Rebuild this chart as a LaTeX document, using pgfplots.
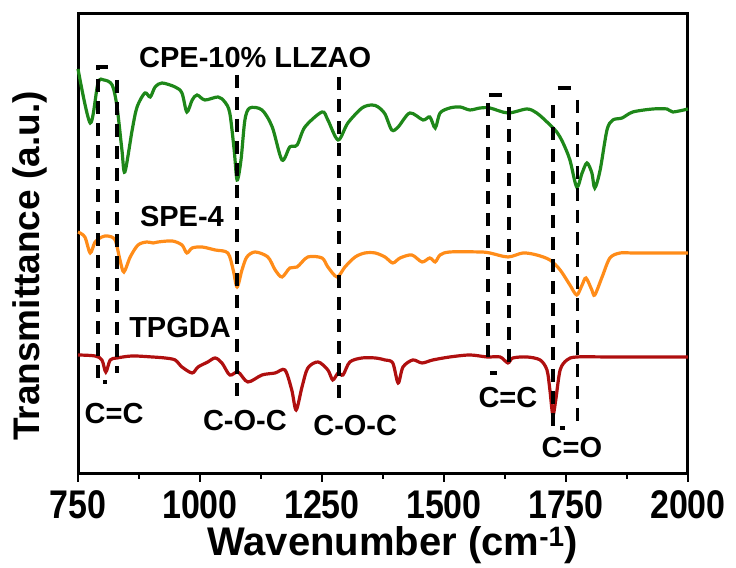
\documentclass[border=0pt]{standalone}
\usepackage{pgfplots}
\pgfplotsset{compat=1.18}
\usepackage{fontspec}
\setmainfont{Liberation Sans}
\definecolor{cgreen}{RGB}{30,135,25}
\definecolor{corange}{RGB}{255,140,25}
\definecolor{cred}{RGB}{175,15,15}
\newcommand\sq[1]{\scalebox{0.85}[1]{#1}}
\begin{document}
\begin{tikzpicture}
\begin{axis}[
 scale only axis, width=610pt, height=460pt,
 xmin=750, xmax=2000, ymin=0, ymax=460,
 xtick={750,1000,1250,1500,1750,2000},
 xticklabels={\sq{750},\sq{1000},\sq{1250},\sq{1500},\sq{1750},\sq{2000}},
 minor x tick num=1,
 ytick=\empty,
 xtick pos=bottom, tick align=outside,
 major tick length=8pt, minor tick length=5pt,
 tick style={black, line width=2.5pt},
 axis line style={line width=3pt},
 xticklabel style={font=\fontsize{40}{48}\selectfont\bfseries, yshift=-5pt},
 clip=false,
]
% green: CPE-10% LLZAO
\addplot[cgreen, line width=3.2pt, smooth] coordinates {
(750,405) (775,351) (791,391) (803,394) (820,389) (830,367) (840,324) (846,302)
(861,344) (871,367) (887,381) (898,377) (908,387) (922,391) (949,387) (963,381)
(973,362) (984,374) (994,379) (1010,374) (1037,377) (1051,372) (1061,361) (1070,324)
(1076,294) (1084,314) (1092,354) (1102,366) (1127,364) (1148,347) (1168,314) (1184,327)
(1199,329) (1215,347) (1250,362) (1262,354) (1283,334) (1303,351) (1332,366) (1352,369)
(1365,367) (1379,360) (1393,344) (1406,347) (1430,361) (1457,354) (1471,357) (1482,346)
(1492,361) (1512,366) (1533,367) (1553,364) (1574,366) (1594,366) (1631,361) (1670,365)
(1690,361) (1711,352) (1731,342) (1744,331) (1758,314) (1772,287) (1783,301) (1793,311)
(1803,301) (1809,286) (1820,304) (1834,344) (1846,354) (1865,356) (1887,362) (1928,365)
(1957,365) (1969,362) (2000,365)
};
% orange: SPE-4
\addplot[corange, line width=3.2pt, smooth] coordinates {
(750,242) (764,237) (775,221) (785,232) (799,237) (811,238) (826,234) (836,214)
(844,202) (857,217) (873,229) (891,232) (904,231) (914,232) (943,233) (963,229)
(973,221) (984,226) (1004,227) (1031,224) (1057,221) (1068,204) (1076,187) (1086,204)
(1096,217) (1113,222) (1139,217) (1154,204) (1168,197) (1184,206) (1199,207) (1221,217)
(1250,216) (1262,207) (1281,197) (1297,207) (1318,217) (1338,221) (1359,221) (1379,217)
(1395,211) (1410,216) (1434,219) (1455,212) (1471,216) (1482,212) (1492,219) (1512,222)
(1574,222) (1594,221) (1631,217) (1662,221) (1690,219) (1717,214) (1738,204) (1758,189)
(1772,179) (1783,189) (1791,196) (1803,184) (1809,179) (1824,197) (1840,216) (1861,221)
(1887,221) (1949,221) (2000,221)
};
% red: TPGDA
\addplot[cred, line width=3.2pt, smooth] coordinates {
(750,119) (785,118) (799,114) (807,102) (816,114) (830,116) (861,118) (902,117)
(928,116) (949,114) (963,107) (984,101) (996,107) (1016,112) (1031,116) (1045,111)
(1061,99) (1078,102) (1098,92) (1127,99) (1154,101) (1174,104) (1188,84) (1197,64)
(1209,87) (1221,106) (1242,112) (1262,104) (1272,94) (1283,101) (1293,99) (1307,112)
(1332,116) (1359,116) (1379,114) (1395,111) (1406,91) (1416,107) (1436,114) (1455,111)
(1477,114) (1512,117) (1553,119) (1588,117) (1615,117) (1631,111) (1641,116) (1670,117)
(1697,114) (1711,104) (1717,84) (1723,59) (1729,74) (1738,104) (1752,114) (1772,117)
(1846,117) (2000,117)
};
% dashed marker lines
\pgfplotsset{dl/.style={black, line width=3.5pt, dash pattern=on 13pt off 9pt}}
\addplot[dl] coordinates {(811,407) (791,407) (791,92) (809,92)};
\addplot[dl] coordinates {(830,394) (830,101)};
\addplot[dl] coordinates {(1076,399) (1076,77)};
\addplot[dl] coordinates {(1285,397) (1285,72)};
\addplot[dl] coordinates {(1619,379) (1590,379) (1590,117)};
\addplot[black, line width=3.5pt] coordinates {(1594,101) (1608,101)};
\addplot[dl] coordinates {(1633,367) (1633,107)};
\addplot[dl] coordinates {(1723,369) (1723,46) (1748,46)};
\addplot[black, line width=3.5pt] coordinates {(1733,386) (1760,386)};
\addplot[dl] coordinates {(1774,374) (1774,51)};
% annotations
\begin{scope}[every node/.style={font=\fontsize{29}{34}\selectfont\bfseries}]
\node at (axis cs:1113,416) {CPE-10\% LLZAO};
\node at (axis cs:963,257) {SPE-4};
\node at (axis cs:959,146) {TPGDA};
\node at (axis cs:824,60) {C=C};
\node at (axis cs:1092,53) {C-O-C};
\node at (axis cs:1318,48) {C-O-C};
\node at (axis cs:1631,76) {C=C};
\node at (axis cs:1762,26) {C=O};
\end{scope}
% axis labels
\node[font=\fontsize{40}{48}\selectfont\bfseries] at (rel axis cs:0.516,-0.155) {Wavenumber (cm\textsuperscript{-1})};
\node[font=\fontsize{37}{44}\selectfont\bfseries, rotate=90] at (rel axis cs:-0.0787,0.452) {Transmittance (a.u.)};
% page frame
\path (rel axis cs:-0.1279,-0.2022) rectangle (rel axis cs:1.0787,1.0304);
\end{axis}
\end{tikzpicture}
\end{document}
